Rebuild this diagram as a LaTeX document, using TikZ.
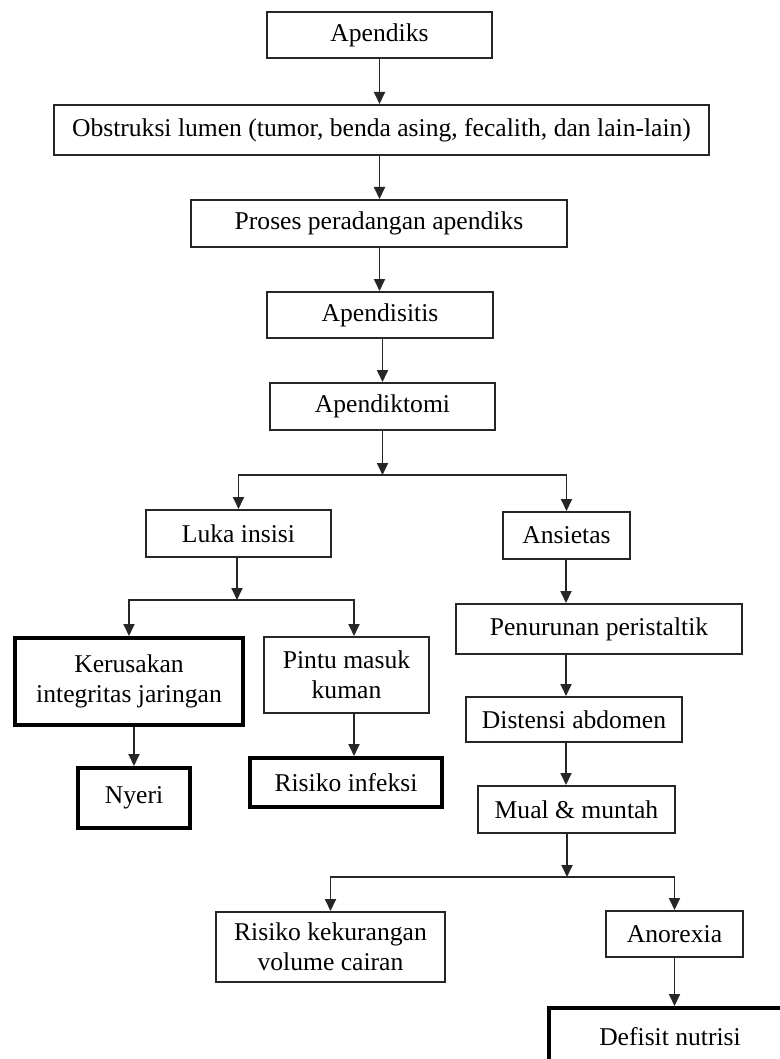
\documentclass[tikz,border=0pt]{standalone}
\usepackage{fontspec}
\setmainfont{Liberation Serif}
\usetikzlibrary{arrows.meta}
\begin{document}
\begin{tikzpicture}[x=1pt,y=-1pt,
  box/.style={draw=black!85,line width=2pt,inner sep=0pt,align=center,
    font=\fontsize{25.6}{30}\selectfont},
  boldbox/.style={box,line width=4pt,draw=black},
  arr/.style={draw=black!85,line width=1.8pt,-{Triangle[width=11pt,length=12pt]}}]
\useasboundingbox (0,0) rectangle (779,1059);
\fill[white] (0,0) rectangle (779,1059);
% nodes
\node[box,minimum width=225pt,minimum height=46pt] (apd) at (379.5,35) {Apendiks};
\node[box,minimum width=655pt,minimum height=50pt] (obs) at (381.5,130) {Obstruksi lumen (tumor, benda asing, fecalith, dan lain-lain)};
\node[box,minimum width=376pt,minimum height=47pt] (pro) at (379,223.5) {Proses peradangan apendiks};
\node[box,minimum width=226pt,minimum height=46pt] (apdt) at (380,315) {Apendisitis};
\node[box,minimum width=225pt,minimum height=47pt] (apk) at (382.5,406.5) {Apendiktomi};
\node[box,minimum width=185pt,minimum height=47pt] (luka) at (238.5,533.5) {Luka insisi};
\node[box,minimum width=127pt,minimum height=47pt] (ans) at (566.5,535.5) {Ansietas};
\node[boldbox,minimum width=228pt,minimum height=87pt] (ker) at (129,681.5) {Kerusakan\\integritas jaringan};
\node[box,minimum width=165pt,minimum height=76pt] (pin) at (346.5,675) {Pintu masuk\\kuman};
\node[boldbox,minimum width=112pt,minimum height=60pt] (nye) at (134,798) {Nyeri};
\node[boldbox,minimum width=192pt,minimum height=49pt] (inf) at (346,782.5) {Risiko infeksi};
\node[box,minimum width=286pt,minimum height=50pt] (pen) at (599,629) {Penurunan peristaltik};
\node[box,minimum width=216pt,minimum height=45pt] (dis) at (574,719.5) {Distensi abdomen};
\node[box,minimum width=197pt,minimum height=47pt] (mua) at (576.5,809.5) {Mual \& muntah};
\node[box,minimum width=229pt,minimum height=70pt] (kek) at (330.5,947) {Risiko kekurangan\\volume cairan};
\node[box,minimum width=137pt,minimum height=46pt] (ano) at (674.5,934) {Anorexia};
\node[boldbox,minimum width=242pt,minimum height=58pt] (def) at (670,1037) {Defisit nutrisi};
% junctions
\coordinate (b1) at (382.5,475);
\coordinate (b2) at (237,600);
\coordinate (b3) at (567,877);
\coordinate (px) at (354,0);
\coordinate (tx) at (566,0);
% connectors
\draw[arr] (apd.south) -- (apd.south |- obs.north);
\draw[arr] (obs.south -| apd.south) -- (apd.south |- pro.north);
\draw[arr] (pro.south -| apd.south) -- (apd.south |- apdt.north);
\draw[arr] (apdt.south -| apk.south) -- (apk.north);
\draw[arr] (apk.south) -- (b1);
\draw[arr] (b1) -| (luka.north);
\draw[arr] (b1) -| (ans.north);
\draw[arr] (luka.south -| b2) -- (b2);
\draw[arr] (b2) -| (ker.north);
\draw[arr] (b2) -| (pin.north -| px);
\draw[arr] (ker.south -| nye.north) -- (nye.north);
\draw[arr] (pin.south -| px) -- (inf.north -| px);
\draw[arr] (ans.south -| tx) -- (pen.north -| tx);
\draw[arr] (pen.south -| tx) -- (dis.north -| tx);
\draw[arr] (dis.south -| tx) -- (mua.north -| tx);
\draw[arr] (mua.south -| b3) -- (b3);
\draw[arr] (b3) -| (kek.north);
\draw[arr] (b3) -| (ano.north);
\draw[arr] (ano.south) -- (ano.south |- def.north);
\end{tikzpicture}
\end{document}
